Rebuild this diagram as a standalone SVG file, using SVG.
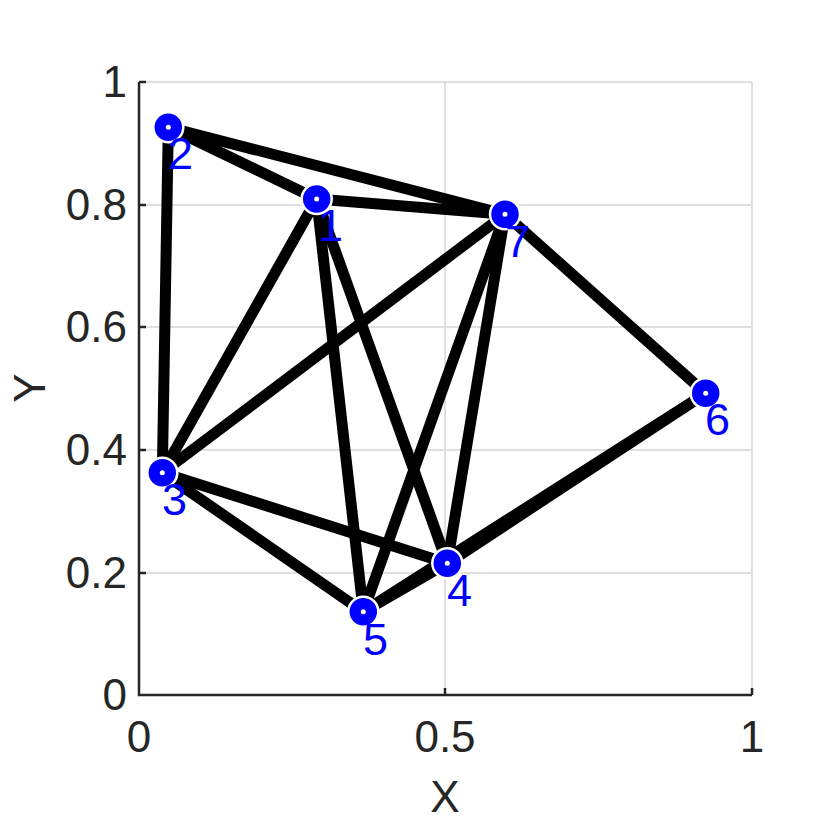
<svg xmlns="http://www.w3.org/2000/svg" width="830" height="830" viewBox="0 0 830 830">
<style>
.grid{stroke:#dfdfdf;stroke-width:2;fill:none}
.axis{stroke:#262626;stroke-width:2.5;fill:none}
.tick{font-family:"Liberation Sans",Arial,sans-serif;font-size:44px;fill:#262626}
.edge{stroke:#000;stroke-width:11;stroke-linecap:round;fill:none}
.node circle.m{fill:#0000ff;stroke:#fff;stroke-width:2.5}
.node circle.d{fill:#fff;stroke:none}
.node text{font-family:"Liberation Sans",Arial,sans-serif;font-size:45px;fill:#0000ff}
</style>
<rect width="830" height="830" fill="#fff"/>
<g id="grid">
<line class="grid" x1="139" y1="573" x2="752" y2="573"/>
<line class="grid" x1="139" y1="450" x2="752" y2="450"/>
<line class="grid" x1="139" y1="327" x2="752" y2="327"/>
<line class="grid" x1="139" y1="205" x2="752" y2="205"/>
<line class="grid" x1="139" y1="82" x2="752" y2="82"/>
<line class="grid" x1="445" y1="82" x2="445" y2="695"/>
<line class="grid" x1="752" y1="82" x2="752" y2="695"/>
</g>
<g id="axes">
<path class="axis" d="M139,82 V695 H752"/>
<path class="axis" d="M139,82 h7 M139,205 h7 M139,327 h7 M139,450 h7 M139,573 h7 M445,695 v-7 M752,695 v-7"/>
<g class="tick" text-anchor="end">
<text x="127" y="97">1</text>
<text x="127" y="220">0.8</text>
<text x="127" y="342">0.6</text>
<text x="127" y="465">0.4</text>
<text x="127" y="588">0.2</text>
<text x="127" y="710">0</text>
</g>
<g class="tick" text-anchor="middle">
<text x="139" y="752">0</text>
<text x="445" y="752">0.5</text>
<text x="752" y="752">1</text>
<text x="445" y="812">X</text>
<text transform="translate(45,388) rotate(-90)">Y</text>
</g>
</g>
<g id="edges">
<line class="edge" x1="168.3" y1="127.3" x2="316.7" y2="199"/>
<line class="edge" x1="168.3" y1="127.3" x2="505" y2="214.3"/>
<line class="edge" x1="168.3" y1="127.3" x2="162.3" y2="472.7"/>
<line class="edge" x1="316.7" y1="199" x2="505" y2="214.3"/>
<line class="edge" x1="316.7" y1="199" x2="162.3" y2="472.7"/>
<line class="edge" x1="316.7" y1="199" x2="363.3" y2="611.7"/>
<line class="edge" x1="316.7" y1="199" x2="447.3" y2="563.3"/>
<line class="edge" x1="505" y1="214.3" x2="162.3" y2="472.7"/>
<line class="edge" x1="505" y1="214.3" x2="363.3" y2="611.7"/>
<line class="edge" x1="505" y1="214.3" x2="447.3" y2="563.3"/>
<line class="edge" x1="505" y1="214.3" x2="705.7" y2="393.3"/>
<line class="edge" x1="162.3" y1="472.7" x2="447.3" y2="563.3"/>
<line class="edge" x1="162.3" y1="472.7" x2="363.3" y2="611.7"/>
<line class="edge" x1="363.3" y1="611.7" x2="447.3" y2="563.3"/>
<line class="edge" x1="363.3" y1="611.7" x2="705.7" y2="393.3"/>
<line class="edge" x1="447.3" y1="563.3" x2="705.7" y2="393.3"/>
</g>
<g id="node1" class="node"><circle class="m" cx="316.7" cy="199" r="15"/><circle class="d" cx="316.7" cy="199" r="2.5"/><text x="318" y="241">1</text></g>
<g id="node2" class="node"><circle class="m" cx="168.3" cy="127.3" r="15"/><circle class="d" cx="168.3" cy="127.3" r="2.5"/><text x="168" y="169">2</text></g>
<g id="node3" class="node"><circle class="m" cx="162.3" cy="472.7" r="15"/><circle class="d" cx="162.3" cy="472.7" r="2.5"/><text x="162" y="515">3</text></g>
<g id="node4" class="node"><circle class="m" cx="447.3" cy="563.3" r="15"/><circle class="d" cx="447.3" cy="563.3" r="2.5"/><text x="447" y="606">4</text></g>
<g id="node5" class="node"><circle class="m" cx="363.3" cy="611.7" r="15"/><circle class="d" cx="363.3" cy="611.7" r="2.5"/><text x="363" y="655">5</text></g>
<g id="node6" class="node"><circle class="m" cx="705.7" cy="393.3" r="15"/><circle class="d" cx="705.7" cy="393.3" r="2.5"/><text x="705" y="435">6</text></g>
<g id="node7" class="node"><circle class="m" cx="505" cy="214.3" r="15"/><circle class="d" cx="505" cy="214.3" r="2.5"/><text x="505" y="257">7</text></g>
</svg>
